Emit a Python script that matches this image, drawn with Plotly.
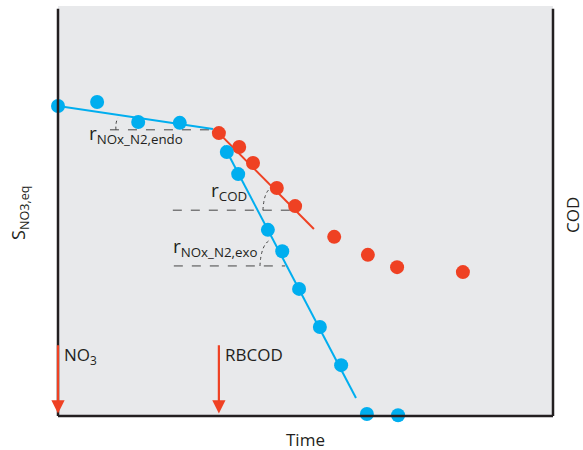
import plotly.graph_objects as go

# ---- data (abstract units: time 0-100, concentration 0-100) ----
endo_t = [0.0, 7.9, 16.2, 24.6]
endo_s = [75.6, 76.6, 71.7, 71.5]
endo_fit_t = [0.0, 31.3]
endo_fit_s = [75.6, 70.0]

exo_t = [34.1, 36.4, 42.4, 45.3, 48.7, 52.9, 57.2, 62.4, 68.7]
exo_s = [64.4, 59.0, 45.4, 40.2, 31.0, 21.7, 12.4, 0.5, 0.2]
exo_fit_t = [33.5, 60.2]
exo_fit_s = [65.9, 4.4]

cod_t = [32.5, 36.6, 39.4, 44.2, 47.9, 55.8, 62.6, 68.5, 81.8]
cod_s = [69.0, 65.6, 61.7, 55.6, 51.2, 43.7, 39.3, 36.3, 35.1]
cod_fit_t = [32.5, 51.7]
cod_fit_s = [69.0, 45.6]

# reference lines for slope angles: (t0, t1, level)
ref_lines = [(10.5, 31.3, 69.8), (23.2, 47.9, 50.2), (23.4, 45.9, 36.6)]
# angle arcs: (start, control, end) points
arcs = [
    ((11.7, 69.8), (11.6, 71.7), (12.1, 72.7)),
    ((41.4, 50.2), (41.6, 54.4), (42.8, 55.4)),
    ((40.8, 36.6), (41.0, 41.7), (42.8, 42.9)),
]
# dosing events
dose_t = [0.0, 32.5]
dose_labels = ["NO<sub>3</sub>", "RBCOD"]
dose_top = 17.6

BLUE = "#00AEEF"
RED = "#EF4123"
DARK = "#231F20"
FONT = "Open Sans"

fig = go.Figure()
fig.add_trace(go.Scatter(x=endo_fit_t, y=endo_fit_s, mode="lines",
                         line=dict(color=BLUE, width=2), hoverinfo="skip"))
fig.add_trace(go.Scatter(x=exo_fit_t, y=exo_fit_s, mode="lines",
                         line=dict(color=BLUE, width=2), hoverinfo="skip"))
fig.add_trace(go.Scatter(x=cod_fit_t, y=cod_fit_s, mode="lines",
                         line=dict(color=RED, width=2), hoverinfo="skip"))
fig.add_trace(go.Scatter(x=cod_t, y=cod_s, mode="markers",
                         marker=dict(color=RED, size=14), cliponaxis=False))
fig.add_trace(go.Scatter(x=endo_t, y=endo_s, mode="markers",
                         marker=dict(color=BLUE, size=14), cliponaxis=False))
fig.add_trace(go.Scatter(x=exo_t, y=exo_s, mode="markers",
                         marker=dict(color=BLUE, size=14), cliponaxis=False))

shapes = []
for t0, t1, lv in ref_lines:
    shapes.append(dict(type="line", xref="x", yref="y", x0=t0, x1=t1, y0=lv, y1=lv,
                       line=dict(color="#444444", width=1, dash="dash"), layer="below"))
for (p0, c, p1) in arcs:
    shapes.append(dict(type="path", xref="x", yref="y",
                       path=f"M {p0[0]},{p0[1]} Q {c[0]},{c[1]} {p1[0]},{p1[1]}",
                       line=dict(color="#444444", width=1, dash="dot"), layer="below"))
# axis frame
shapes += [
    dict(type="line", xref="paper", yref="paper", x0=0, x1=0, y0=0, y1=0.993,
         line=dict(color=DARK, width=2.5)),
    dict(type="line", xref="paper", yref="paper", x0=1, x1=1, y0=0, y1=0.993,
         line=dict(color=DARK, width=2.5)),
    dict(type="line", xref="paper", yref="paper", x0=0, x1=1, y0=0, y1=0,
         line=dict(color=DARK, width=2.5)),
]

ann = []
for t, lab in zip(dose_t, dose_labels):
    ann.append(dict(x=t, y=0.6, ax=t, ay=dose_top, xref="x", yref="y", axref="x", ayref="y",
                    showarrow=True, arrowhead=2, arrowsize=1.2, arrowwidth=2.2,
                    arrowcolor=RED, text=""))
    ann.append(dict(x=t + 0.9, y=dose_top + 0.8, xref="x", yref="y", text=lab, showarrow=False,
                    xanchor="left", yanchor="top", font=dict(size=17, color=DARK, family=FONT)))

ann += [
    dict(x=5.9, y=68.8, xref="x", yref="y", text="r<sub>NOx_N2,endo</sub>", showarrow=False,
         xanchor="left", yanchor="middle", font=dict(size=19, color=DARK, family=FONT)),
    dict(x=30.6, y=54.9, xref="x", yref="y", text="r<sub>COD</sub>", showarrow=False,
         xanchor="left", yanchor="middle", font=dict(size=19, color=DARK, family=FONT)),
    dict(x=22.8, y=41.2, xref="x", yref="y", text="r<sub>NOx_N2,exo</sub>", showarrow=False,
         xanchor="left", yanchor="middle", font=dict(size=19, color=DARK, family=FONT)),
    dict(x=-0.079, y=0.495, xref="paper", yref="paper", text="S<sub>NO3,eq</sub>",
         xanchor="center", yanchor="middle",
         showarrow=False, textangle=-90, font=dict(size=18, color=DARK, family=FONT)),
    dict(x=1.038, y=0.49, xref="paper", yref="paper", text="COD",
         xanchor="center", yanchor="middle",
         showarrow=False, textangle=-90, font=dict(size=17, color=DARK, family=FONT)),
    dict(x=0.501, y=-0.058, xref="paper", yref="paper", text="Time",
         xanchor="center", yanchor="middle",
         showarrow=False, font=dict(size=17, color=DARK, family=FONT)),
]

fig.update_layout(
    width=583, height=450,
    margin=dict(l=58, r=30, t=6, b=34),
    paper_bgcolor="white", plot_bgcolor="#E8E9EB",
    showlegend=False,
    xaxis=dict(range=[0, 100], showgrid=False, zeroline=False, showticklabels=False,
               ticks="", showline=False, fixedrange=True),
    yaxis=dict(range=[0, 100], showgrid=False, zeroline=False, showticklabels=False,
               ticks="", showline=False, fixedrange=True),
    shapes=shapes, annotations=ann,
    font=dict(family=FONT, color=DARK),
)

fig.write_html("out.html", config={"displayModeBar": False},
               post_script="document.body.style.margin='0';document.body.style.padding='0';")
